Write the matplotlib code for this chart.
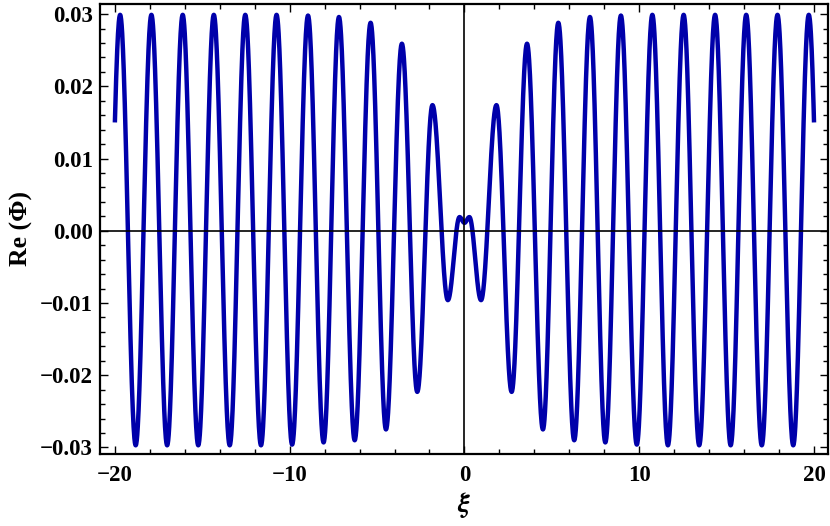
import numpy as np
import matplotlib
matplotlib.use("Agg")
import matplotlib.pyplot as plt
from matplotlib.ticker import MultipleLocator, FuncFormatter

# extrema of Re(Phi) (xi, value); the outer two are
# the troughs just beyond the plotted range, used only to shape the ends
ext_xi = [-20.60, -19.70, -18.81, -17.91, -17.01, -16.12, -15.23, -14.34,
          -13.43, -12.54, -11.64, -10.75, -9.86, -8.95, -8.06, -7.18,
          -6.28, -5.37, -4.49, -3.58, -2.70, -1.83, -0.95, -0.28, 0.0,
          0.28, 0.95, 1.83, 2.70, 3.58, 4.49, 5.37, 6.28, 7.18, 8.06,
          8.95, 9.86, 10.75, 11.64, 12.54, 13.43, 14.34, 15.23, 16.12,
          17.01, 17.91, 18.81, 19.70, 20.60]
ext_val = [-0.0297, 0.0299, -0.0297, 0.0299, -0.0297, 0.0299, -0.0297, 0.0299,
           -0.0297, 0.0299, -0.0297, 0.0299, -0.0296, 0.0298, -0.0293, 0.0296,
           -0.0290, 0.0288, -0.0275, 0.0259, -0.0223, 0.0174, -0.0096, 0.0019, 0.0011,
           0.0019, -0.0096, 0.0174, -0.0223, 0.0259, -0.0275, 0.0288, -0.0290, 0.0296,
           -0.0293, 0.0298, -0.0296, 0.0299, -0.0297, 0.0299, -0.0297, 0.0299,
           -0.0297, 0.0299, -0.0297, 0.0299, -0.0297, 0.0299, -0.0297]

xi_range = (-20, 20)


def smooth_curve(xs, ys, n=60):
    # half-cosine shape between neighbouring extrema
    px, py = [], []
    for i in range(len(xs) - 1):
        t = np.linspace(0, 1, n, endpoint=False)
        px.append(xs[i] + (xs[i + 1] - xs[i]) * t)
        py.append(ys[i] + (ys[i + 1] - ys[i]) * (1 - np.cos(np.pi * t)) / 2)
    px.append([xs[-1]])
    py.append([ys[-1]])
    px = np.concatenate(px)
    py = np.concatenate(py)
    keep = (px >= xi_range[0]) & (px <= xi_range[1])
    return px[keep], py[keep]


def fmt(v, pos, nd):
    s = f"{v:.{nd}f}"
    return s.replace("-", "\u2212")


serif = "Liberation Serif"
plt.rcParams["mathtext.fontset"] = "stix"

fig = plt.figure(figsize=(8.3, 5.26), dpi=100)
ax = fig.add_axes([0.1205, 0.1369, 0.8771, 0.8555])

x, y = smooth_curve(ext_xi, ext_val)
ax.plot(x, y, color="#0000AA", lw=3.2, solid_capstyle="butt", zorder=2)

ax.axhline(0, color="black", lw=1.2, zorder=3)
ax.axvline(0, color="black", lw=1.2, zorder=3)

ax.set_xlim(-20.85, 20.8)
ax.set_ylim(-0.0309, 0.0314)

ax.xaxis.set_major_locator(MultipleLocator(10))
ax.xaxis.set_minor_locator(MultipleLocator(2))
ax.yaxis.set_major_locator(MultipleLocator(0.01))
ax.yaxis.set_minor_locator(MultipleLocator(0.002))
ax.xaxis.set_major_formatter(FuncFormatter(lambda v, p: fmt(v, p, 0)))
ax.yaxis.set_major_formatter(FuncFormatter(lambda v, p: fmt(v, p, 2)))

ax.tick_params(which="both", direction="in", top=True, right=True,
               width=1.0, color="black")
ax.tick_params(which="major", length=6)
ax.tick_params(which="minor", length=3.5)
ax.tick_params(axis="x", pad=8)
ax.tick_params(axis="y", pad=5)
for lab in ax.get_xticklabels() + ax.get_yticklabels():
    lab.set_fontfamily(serif)
    lab.set_fontweight("bold")
    lab.set_fontsize(16.5)

for sp in ax.spines.values():
    sp.set_linewidth(1.6)

ax.set_xlabel(r"$\boldsymbol{\xi}$", fontsize=20, labelpad=3)
ax.set_ylabel("Re (\u03a6)", family=serif, fontweight="bold", fontsize=18.5,
              labelpad=5)

fig.savefig("out.png", dpi=100)
